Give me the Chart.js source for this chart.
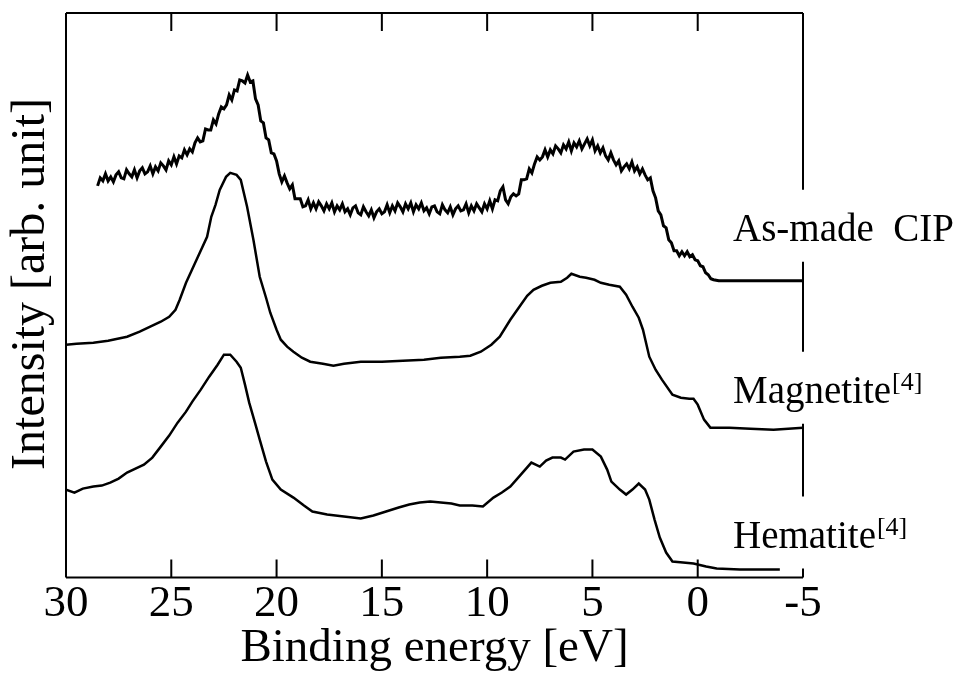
<!DOCTYPE html>
<html>
<head>
<meta charset="utf-8">
<script src="https://cdn.jsdelivr.net/npm/chart.js@4.4.0/dist/chart.umd.min.js"></script>
<style>
  html, body { margin: 0; padding: 0; background: #fff; }
  #wrap { width: 962px; height: 680px; }
</style>
</head>
<body>
<div id="wrap"><canvas id="myChart" width="962" height="680"></canvas></div>
<script>
// binding energy [eV], intensity [arb. unit]
const asMade = [
  [28.5,392],[28.375,400],[28.25,397],[28.125,404],[28.0,397],[27.875,401],[27.75,396],[27.625,403],
  [27.5,406],[27.375,400],[27.25,399],[27.125,408],[27.0,404],[26.875,401],[26.75,408],[26.625,400],
  [26.5,407],[26.375,410],[26.25,404],[26.125,406],[26.0,412],[25.875,404],[25.75,411],[25.625,407],
  [25.5,415],[25.375,412],[25.25,408],[25.125,417],[25.0,413],[24.875,421],[24.75,414],[24.625,422],
  [24.5,420],[24.375,428],[24.25,423],[24.125,429],[24.0,426],[23.875,435],[23.75,440],[23.625,436],
  [23.5,437],[23.375,449],[23.25,448],[23.125,448],[23.0,458],[22.875,454],[22.75,464],[22.625,471],
  [22.5,469],[22.375,473],[22.25,483],[22.125,478],[22.0,488],[21.875,487],[21.75,498],[21.625,497],
  [21.5,495],[21.375,503],[21.25,496],[21.125,497],[21.0,479],[20.875,473],[20.75,457],[20.625,455],
  [20.5,440],[20.375,438],[20.25,425],[20.125,424],[20.0,417],[19.875,404],[19.75,396],[19.625,402],
  [19.5,395],[19.375,389],[19.25,393],[19.125,379],[19.0,379],[18.875,379],[18.75,371],[18.625,372],
  [18.5,378],[18.375,369],[18.25,375],[18.125,369],[18.0,376],[17.875,372],[17.75,367],[17.625,374],
  [17.5,369],[17.375,375],[17.25,366],[17.125,372],[17.0,368],[16.875,374],[16.75,366],[16.625,369],
  [16.5,363],[16.375,370],[16.25,372],[16.125,365],[16.0,363],[15.875,371],[15.75,366],[15.625,362],
  [15.5,368],[15.375,360],[15.25,366],[15.125,369],[15.0,364],[14.875,366],[14.75,373],[14.625,365],
  [14.5,372],[14.375,367],[14.25,375],[14.125,371],[14.0,366],[13.875,374],[13.75,369],[13.625,375],
  [13.5,366],[13.375,373],[13.25,369],[13.125,375],[13.0,367],[12.875,370],[12.75,364],[12.625,371],
  [12.5,372],[12.375,366],[12.25,364],[12.125,373],[12.0,368],[11.875,365],[11.75,371],[11.625,363],
  [11.5,369],[11.375,372],[11.25,367],[11.125,368],[11.0,374],[10.875,365],[10.75,372],[10.625,367],
  [10.5,374],[10.375,370],[10.25,366],[10.125,374],[10.0,369],[9.875,377],[9.75,369],[9.625,378],
  [9.5,377],[9.375,387],[9.25,391],[9.125,378],[9.0,374],[8.875,381],[8.75,384],[8.625,382],
  [8.5,384],[8.375,398],[8.25,398],[8.125,399],[8.0,409],[7.875,405],[7.75,414],[7.625,421],
  [7.5,418],[7.375,421],[7.25,428],[7.125,421],[7.0,428],[6.875,424],[6.75,432],[6.625,429],
  [6.5,425],[6.375,433],[6.25,429],[6.125,436],[6.0,427],[5.875,435],[5.75,431],[5.625,437],
  [5.5,429],[5.375,434],[5.25,439],[5.125,432],[5.0,438],[4.875,427],[4.75,432],[4.625,425],
  [4.5,430],[4.375,422],[4.25,418],[4.125,425],[4.0,418],[3.875,413],[3.75,417],[3.625,407],
  [3.5,411],[3.375,414],[3.25,409],[3.125,416],[3.0,407],[2.875,411],[2.75,404],[2.625,409],
  [2.5,403],[2.375,398],[2.25,400],[2.125,387],[2.0,380],[1.875,367],[1.75,363],[1.625,352],
  [1.5,350],[1.375,338],[1.25,335],[1.125,327],[1.0,327],[0.875,322],[0.75,326],[0.625,322],
  [0.5,326],[0.375,321],[0.25,323],[0.125,318],[0.0,317],[-0.125,312],[-0.25,311],[-0.375,305],
  [-0.5,303],[-0.625,299],[-0.75,298],[-1.0,297],[-2.0,297],[-3.0,297],[-4.0,297],[-5.0,297]
];

const magnetite = [
  [30.0,233],[29.5,234],[28.7,235],[28.0,237],[27.1,241],[26.5,246],[26.0,251],[25.5,256],
  [25.1,261],[24.8,268],[24.6,278],[24.3,295],[23.8,318],[23.3,341],[23.1,361],[22.9,373],
  [22.7,388],[22.4,401],[22.2,405],[21.9,403],[21.7,398],[21.4,371],[21.1,338],[20.8,301],
  [20.5,280],[20.3,265],[20.0,248],[19.8,238],[19.5,231],[19.2,226],[18.8,220],[18.4,216],
  [17.8,214],[17.3,212],[16.8,214],[16.0,216],[15.0,216],[14.0,217],[13.0,218],[12.2,220],
  [11.3,221],[10.8,222],[10.3,226],[9.8,233],[9.4,241],[8.9,258],[8.4,273],[8.1,282],
  [7.8,288],[7.4,292],[7.0,295],[6.5,296],[6.2,300],[6.0,304],[5.6,301],[5.3,300],
  [4.9,298],[4.6,295],[4.2,293],[3.7,291],[3.4,283],[3.1,271],[2.8,260],[2.6,248],
  [2.3,221],[2.0,208],[1.7,198],[1.2,183],[0.8,180],[0.4,179],[0.2,179],[0.0,173],
  [-0.3,158],[-0.6,150],[-1.5,150],[-2.5,149],[-3.6,148],[-4.3,149],[-5.0,150]
];

const hematite = [
  [30.0,88],[29.6,85],[29.2,89],[28.7,91],[28.3,92],[27.9,95],[27.5,99],[27.1,105],
  [26.7,109],[26.3,113],[25.9,120],[25.5,131],[25.1,142],[24.7,155],[24.3,166],[24.0,176],
  [23.6,188],[23.2,201],[22.8,213],[22.5,223],[22.2,223],[21.9,216],[21.7,210],[21.5,193],
  [21.3,175],[21.0,153],[20.8,138],[20.5,116],[20.2,98],[19.8,88],[19.2,80],[18.7,72],
  [18.3,66],[17.6,63],[16.8,61],[16.0,59],[15.4,62],[14.8,66],[14.2,70],[13.7,73],
  [13.2,75],[12.7,76],[12.2,75],[11.7,74],[11.3,72],[10.7,72],[10.2,71],[9.7,80],
  [9.3,85],[8.9,91],[8.4,103],[7.9,115],[7.5,111],[7.2,117],[6.9,120],[6.5,120],
  [6.3,118],[5.9,126],[5.4,128],[5.0,128],[4.6,121],[4.3,108],[4.1,96],[3.7,88],
  [3.4,83],[3.1,88],[2.8,94],[2.5,88],[2.3,78],[2.05,58],[1.8,40],[1.5,25],
  [1.2,16],[0.7,15],[0.2,14],[-0.4,11],[-0.9,9],[-2.0,8],[-3.0,8],[-3.9,8]
];

const seriesNames = ['As-made  CIP', 'Magnetite', 'Hematite'];
const superscripts = ['', '[4]', '[4]'];
const labelLevels = [352, 190, 45];   // intensity where each name sits
const xTicks = [30, 25, 20, 15, 10, 5, 0, -5];
const yTitle = 'Intensity [arb. unit]';

const serif = "'Liberation Serif', 'Times New Roman', serif";

function toPoints(arr) {
  return arr.map(p => ({ x: p[0], y: p[1] }));
}

// frame, inward ticks, y title and the curve names on the right
const framePlugin = {
  id: 'frame',
  afterDatasetsDraw(chart) {
    const ctx = chart.ctx;
    const a = chart.chartArea;
    const xs = chart.scales.x;
    const ys = chart.scales.y;
    ctx.save();
    ctx.strokeStyle = '#000';
    ctx.lineWidth = 2;
    ctx.lineCap = 'butt';
    ctx.beginPath();
    ctx.moveTo(a.left, a.top); ctx.lineTo(a.right, a.top);
    ctx.moveTo(a.left, a.top); ctx.lineTo(a.left, a.bottom);
    ctx.moveTo(a.left, a.bottom); ctx.lineTo(a.right, a.bottom);
    // right border, broken where the names are
    let y0 = a.top;
    labelLevels.forEach(v => {
      const c = ys.getPixelForValue(v);
      ctx.moveTo(a.right, y0); ctx.lineTo(a.right, c - 36);
      y0 = c + 36;
    });
    ctx.moveTo(a.right, y0); ctx.lineTo(a.right, a.bottom);
    xTicks.slice(1, -1).forEach(t => {
      const px = xs.getPixelForValue(t);
      ctx.moveTo(px, a.bottom); ctx.lineTo(px, a.bottom - 18);
      ctx.moveTo(px, a.top); ctx.lineTo(px, a.top + 18);
    });
    ctx.stroke();

    ctx.fillStyle = '#000';
    ctx.textBaseline = 'alphabetic';
    ctx.textAlign = 'left';
    seriesNames.forEach((name, i) => {
      const base = ys.getPixelForValue(labelLevels[i]) + 15;
      const x0 = a.right - 70;
      ctx.font = '39px ' + serif;
      ctx.fillText(name, x0, base);
      if (superscripts[i]) {
        const w = ctx.measureText(name).width;
        ctx.font = '26px ' + serif;
        ctx.fillText(superscripts[i], x0 + w + 1, base - 13);
      }
    });

    // y axis title, sits a little above the middle of the frame
    ctx.translate(31, a.top + (a.bottom - a.top) * 0.48);
    ctx.rotate(-Math.PI / 2);
    ctx.textAlign = 'center';
    ctx.textBaseline = 'middle';
    ctx.font = '48px ' + serif;
    ctx.fillText(yTitle, 0, 0);
    ctx.restore();
  }
};

const data = {
  datasets: [
    { label: seriesNames[0], data: toPoints(asMade), borderColor: '#000', borderWidth: 3 },
    { label: seriesNames[1], data: toPoints(magnetite), borderColor: '#000', borderWidth: 2.5 },
    { label: seriesNames[2], data: toPoints(hematite), borderColor: '#000', borderWidth: 2.5 }
  ]
};

const config = {
  type: 'line',
  data: data,
  options: {
    responsive: false,
    animation: false,
    devicePixelRatio: 1,
    elements: { point: { radius: 0 }, line: { tension: 0, fill: false } },
    layout: { padding: { top: 13, right: 159, bottom: 8, left: 66 } },
    plugins: { legend: { display: false }, tooltip: { enabled: false } },
    scales: {
      x: {
        type: 'linear',
        reverse: true,
        min: -5,
        max: 30,
        grid: { display: false, drawTicks: false },
        border: { display: false },
        afterBuildTicks: (s) => { s.ticks = xTicks.map(v => ({ value: v })); },
        ticks: {
          color: '#000',
          padding: 6,
          maxRotation: 0,
          font: { family: serif, size: 45, lineHeight: 0.9 }
        },
        title: {
          display: true,
          text: 'Binding energy [eV]',
          color: '#000',
          padding: { top: -5, bottom: 0 },
          font: { family: serif, size: 47, lineHeight: 1 }
        }
      },
      y: {
        display: false,
        min: 0,
        max: 565
      }
    }
  },
  plugins: [framePlugin]
};

const ctx = document.getElementById('myChart').getContext('2d');
const myChart = new Chart(ctx, config);
</script>
</body>
</html>
